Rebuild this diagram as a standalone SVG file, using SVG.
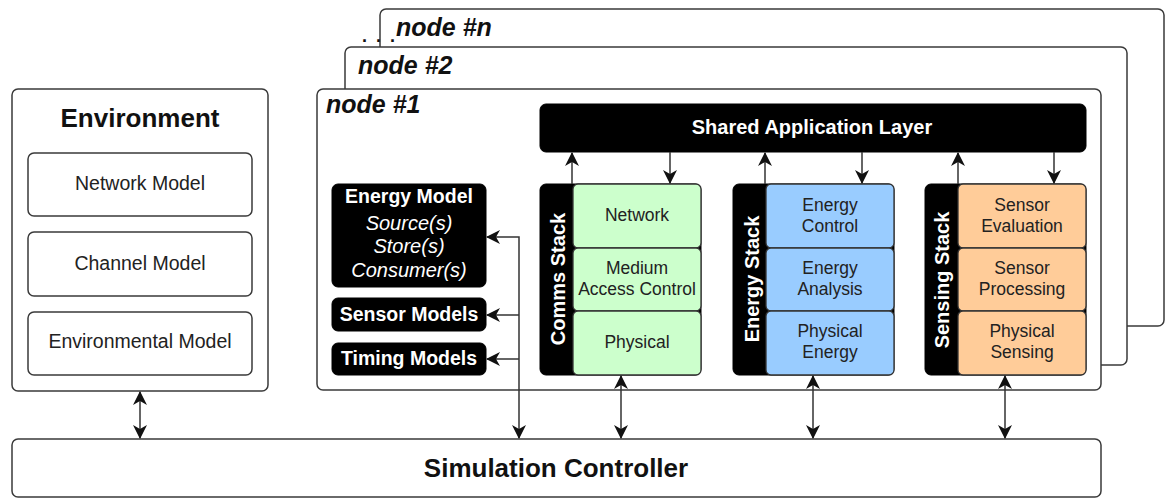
<svg xmlns="http://www.w3.org/2000/svg" width="1166" height="500" viewBox="0 0 1166 500">
<defs>
<style>
text{font-family:"Liberation Sans",Arial,Helvetica,sans-serif;}
.box{fill:#fff;stroke:#3a3a3a;stroke-width:1.5;}
.blk{fill:#000;stroke:#000;stroke-width:1;}
.g{fill:#ccffcc;stroke:#333;stroke-width:1.3;}
.b{fill:#99ccff;stroke:#333;stroke-width:1.3;}
.o{fill:#ffcc99;stroke:#333;stroke-width:1.3;}
.lbl{font-style:italic;font-weight:bold;font-size:25px;fill:#111;}
.cell{font-size:17.5px;fill:#222;text-anchor:middle;}
.env{font-size:19.5px;fill:#222;text-anchor:middle;}
.wb{font-weight:bold;fill:#fff;text-anchor:middle;}
.wi{font-style:italic;fill:#fff;text-anchor:middle;font-size:20px;}
.con{fill:none;stroke:#333;stroke-width:1.5;}
</style>
<marker id="ah" markerUnits="userSpaceOnUse" markerWidth="14" markerHeight="14" viewBox="0 0 14 14" refX="13" refY="7" orient="auto-start-reverse">
<path d="M0,0 L14,7 L0,14 L4,7 z" fill="#111"/>
</marker>
</defs>
<rect width="1166" height="500" fill="#fff"/>

<g id="node-n">
<rect class="box" x="380" y="9" width="784" height="317" rx="6"/>
<text class="lbl" x="396" y="36">node #n</text>
</g>
<text x="362" y="42" style="font-weight:bold;font-size:18px;fill:#111;letter-spacing:2px">. . .</text>
<g id="node-2">
<rect class="box" x="345" y="47" width="782" height="318" rx="6"/>
<text class="lbl" x="358" y="74">node #2</text>
</g>
<g id="node-1">
<rect class="box" x="317" y="89" width="784" height="301" rx="6"/>
<text class="lbl" x="326" y="113">node #1</text>
</g>

<g id="environment">
<rect class="box" x="12" y="89" width="256" height="302" rx="6"/>
<text x="140" y="127" style="font-weight:bold;font-size:26px;fill:#111;text-anchor:middle">Environment</text>
</g>
<g id="network-model">
<rect class="box" x="28" y="153" width="224" height="63" rx="6"/>
<text class="env" x="140" y="190">Network Model</text>
</g>
<g id="channel-model">
<rect class="box" x="28" y="232" width="224" height="64" rx="6"/>
<text class="env" x="140" y="270">Channel Model</text>
</g>
<g id="environmental-model">
<rect class="box" x="28" y="312" width="224" height="63" rx="6"/>
<text class="env" x="140" y="348">Environmental Model</text>
</g>

<g id="simulation-controller">
<rect class="box" x="12" y="439" width="1089" height="58" rx="6"/>
<text x="556" y="477" style="font-weight:bold;font-size:26px;fill:#111;text-anchor:middle">Simulation Controller</text>
</g>

<g id="shared-application-layer">
<rect class="blk" x="540" y="104" width="546" height="48" rx="6"/>
<text class="wb" x="812" y="134" style="font-size:20px">Shared Application Layer</text>
</g>

<g id="energy-model">
<rect class="blk" x="332" y="184" width="154" height="103" rx="6"/>
<text class="wb" x="409" y="203" style="font-size:19.5px">Energy Model</text>
<text class="wi" x="409" y="230">Source(s)</text>
<text class="wi" x="409" y="253">Store(s)</text>
<text class="wi" x="409" y="277">Consumer(s)</text>
</g>
<g id="sensor-models">
<rect class="blk" x="332" y="298" width="154" height="33" rx="6"/>
<text class="wb" x="409" y="321" style="font-size:19.5px">Sensor Models</text>
</g>
<g id="timing-models">
<rect class="blk" x="332" y="343" width="154" height="32" rx="6"/>
<text class="wb" x="409" y="365" style="font-size:19.5px">Timing Models</text>
</g>

<g id="comms-stack">
<rect class="blk" x="540" y="184" width="161" height="191" rx="6"/>
<text class="wb" transform="translate(565,279) rotate(-90)" style="font-size:20px">Comms Stack</text>
<rect class="g" x="573" y="184" width="128" height="64" rx="5"/>
<rect class="g" x="573" y="248" width="128" height="63" rx="5"/>
<rect class="g" x="573" y="311" width="128" height="64" rx="5"/>
<text class="cell" x="637" y="221">Network</text>
<text class="cell" x="637" y="274">Medium</text>
<text class="cell" x="637" y="295">Access Control</text>
<text class="cell" x="637" y="348">Physical</text>
</g>

<g id="energy-stack">
<rect class="blk" x="733" y="184" width="161" height="191" rx="6"/>
<text class="wb" transform="translate(759,279) rotate(-90)" style="font-size:20px">Energy Stack</text>
<rect class="b" x="766" y="184" width="128" height="64" rx="5"/>
<rect class="b" x="766" y="248" width="128" height="63" rx="5"/>
<rect class="b" x="766" y="311" width="128" height="64" rx="5"/>
<text class="cell" x="830" y="211">Energy</text>
<text class="cell" x="830" y="232">Control</text>
<text class="cell" x="830" y="274">Energy</text>
<text class="cell" x="830" y="295">Analysis</text>
<text class="cell" x="830" y="337">Physical</text>
<text class="cell" x="830" y="358">Energy</text>
</g>

<g id="sensing-stack">
<rect class="blk" x="925" y="184" width="161" height="191" rx="6"/>
<text class="wb" transform="translate(949,280) rotate(-90)" style="font-size:20px">Sensing Stack</text>
<rect class="o" x="958" y="184" width="128" height="64" rx="5"/>
<rect class="o" x="958" y="248" width="128" height="63" rx="5"/>
<rect class="o" x="958" y="311" width="128" height="64" rx="5"/>
<text class="cell" x="1022" y="211">Sensor</text>
<text class="cell" x="1022" y="232">Evaluation</text>
<text class="cell" x="1022" y="274">Sensor</text>
<text class="cell" x="1022" y="295">Processing</text>
<text class="cell" x="1022" y="337">Physical</text>
<text class="cell" x="1022" y="358">Sensing</text>
</g>

<g id="connectors">
<path class="con" d="M140,392 V438" marker-start="url(#ah)" marker-end="url(#ah)"/>
<path class="con" d="M572,184 V153" marker-end="url(#ah)"/>
<path class="con" d="M670,152 V183" marker-end="url(#ah)"/>
<path class="con" d="M765,184 V153" marker-end="url(#ah)"/>
<path class="con" d="M862,152 V183" marker-end="url(#ah)"/>
<path class="con" d="M958,184 V153" marker-end="url(#ah)"/>
<path class="con" d="M1054,152 V183" marker-end="url(#ah)"/>
<path class="con" d="M621,376 V438" marker-start="url(#ah)" marker-end="url(#ah)"/>
<path class="con" d="M813,376 V438" marker-start="url(#ah)" marker-end="url(#ah)"/>
<path class="con" d="M1005,376 V438" marker-start="url(#ah)" marker-end="url(#ah)"/>
<path class="con" d="M519,438 V237 H487" marker-start="url(#ah)" marker-end="url(#ah)"/>
<path class="con" d="M519,315 H487" marker-end="url(#ah)"/>
<path class="con" d="M519,359 H487" marker-end="url(#ah)"/>
</g>
</svg>
